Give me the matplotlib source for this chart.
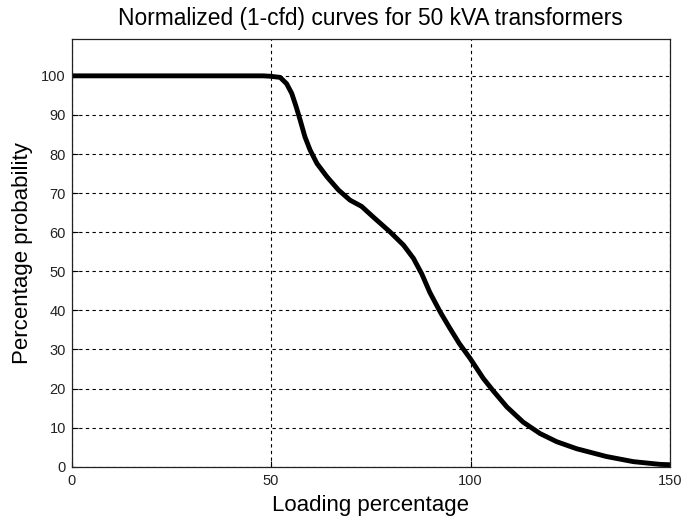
import matplotlib
matplotlib.use("Agg")
import matplotlib.pyplot as plt

# loading percentage vs percentage probability (1-cdf), 50 kVA units
loading = [0, 10, 20, 30, 40, 48, 49.8, 52.3, 53.9, 55.2, 56.3, 57.3, 58.5, 59.8,
           61.5, 64.0, 66.9, 69.8, 72.7, 75.6, 79.8, 83.2, 85.7, 87.8, 89.8,
           92.4, 94.6, 97.2, 99.9, 103.2, 105.7, 109.1, 113.2, 117.4, 121.6,
           126.6, 134.1, 140.8, 147.5, 150]
prob = [100, 100, 100, 100, 100, 100, 99.9, 99.6, 98.0, 95.5, 92.1, 88.7, 84.4, 81.0,
        77.6, 74.2, 70.8, 68.2, 66.6, 63.9, 60.1, 56.7, 53.3, 49.3, 44.6,
        39.6, 35.8, 31.5, 27.7, 22.6, 19.4, 15.3, 11.4, 8.5, 6.4,
        4.6, 2.6, 1.3, 0.6, 0.5]

xticks = [0, 50, 100, 150]
yticks = list(range(0, 101, 10))

plt.rcParams['font.family'] = ['Liberation Sans', 'DejaVu Sans']

fig = plt.figure(figsize=(6.83, 5.21), dpi=100)
ax = fig.add_axes([0.1047, 0.1042, 0.8763, 0.8215])

ax.plot(loading, prob, color='k', linewidth=3.5, solid_joinstyle='round')

ax.set_xlim(0, 150)
ax.set_ylim(0, 109.5)
ax.set_xticks(xticks)
ax.set_yticks(yticks)
ax.grid(True, color='k', linestyle=(0, (3, 3)), linewidth=0.8)
ax.tick_params(direction='in', length=4, width=0.8, labelsize=10.5,
               labelcolor='#222222')
ax.tick_params(axis='x', pad=5.5)
ax.tick_params(axis='y', pad=4)
for sp in ax.spines.values():
    sp.set_linewidth(0.9)
    sp.set_color('#222222')

ax.set_title('Normalized (1-cfd) curves for 50 kVA transformers', fontsize=16.4, pad=10)
ax.set_xlabel('Loading percentage', fontsize=16, labelpad=5)
ax.set_ylabel('Percentage probability', fontsize=16, labelpad=6)

fig.savefig('out.png', dpi=100)
